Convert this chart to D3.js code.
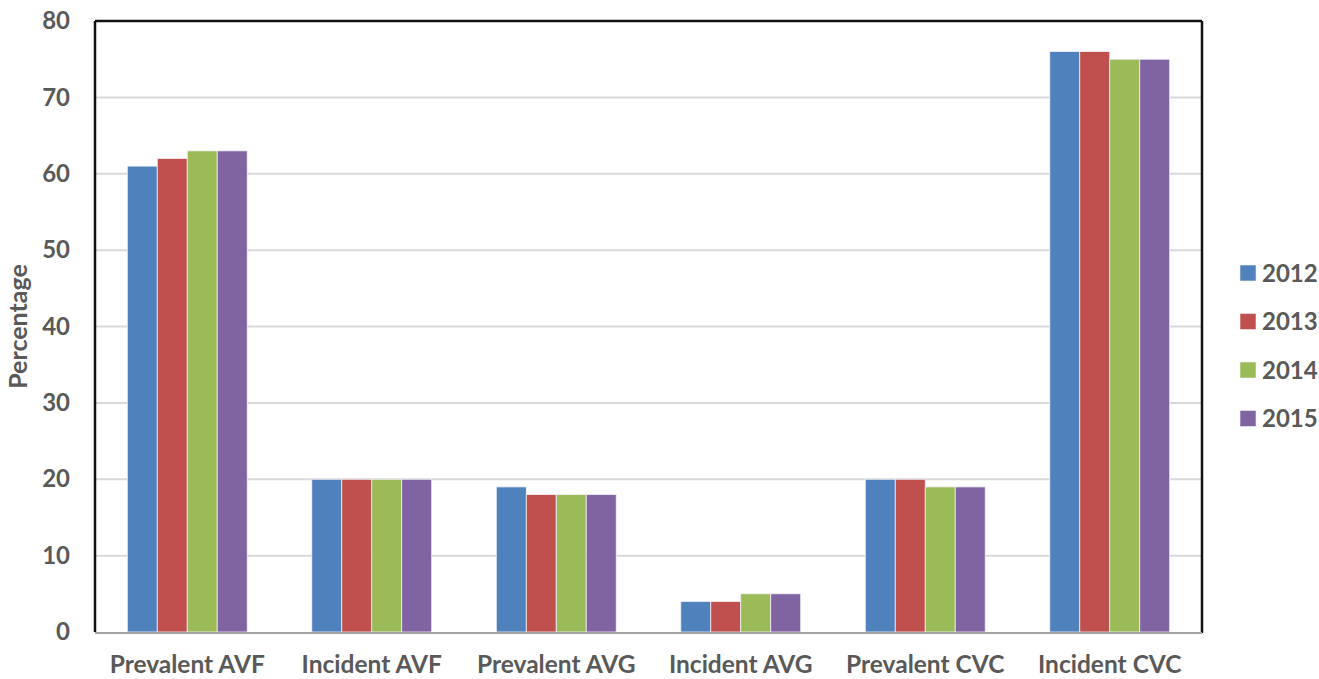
<!DOCTYPE html>
<html>
<head>
<meta charset="utf-8">
<script src="https://cdn.jsdelivr.net/npm/d3@7"></script>
<style>
  html, body { margin: 0; padding: 0; background: #fff; }
  text { font-family: Lato, "Open Sans", sans-serif; font-weight: bold; fill: #595959; }
</style>
</head>
<body>
<svg id="chart" width="1319" height="679"></svg>
<script>
// Vascular access type by year (percent)
const categories = ["Prevalent AVF", "Incident AVF", "Prevalent AVG", "Incident AVG", "Prevalent CVC", "Incident CVC"];
const years = ["2012", "2013", "2014", "2015"];
const values2012 = [61, 20, 19, 4, 20, 76];
const values2013 = [62, 20, 18, 4, 20, 76];
const values2014 = [63, 20, 18, 5, 19, 75];
const values2015 = [63, 20, 18, 5, 19, 75];
const yTicks = [0, 10, 20, 30, 40, 50, 60, 70, 80];
const colors = ["#4F81BD", "#C0504D", "#9BBB59", "#8064A2"];

const series = [values2012, values2013, values2014, values2015];

const svg = d3.select("#chart");
const plotLeft = 95, plotRight = 1202, plotTop = 21, plotBottom = 632;

const x = d3.scaleBand().domain(categories).range([plotLeft, plotRight]).paddingInner(0).paddingOuter(0);
const y = d3.scaleLinear().domain([0, 80]).range([plotBottom, plotTop]);
const groupFrac = 0.65;
const xi = d3.scaleBand().domain(years)
  .range([0, x.bandwidth() * groupFrac]);

// gridlines
svg.append("g").selectAll("line").data(yTicks.filter(t => t > 0 && t < 80)).join("line")
  .attr("x1", plotLeft).attr("x2", plotRight)
  .attr("y1", d => y(d)).attr("y2", d => y(d))
  .attr("stroke", "#d9d9d9").attr("stroke-width", 2);

// bars
const groups = svg.append("g").selectAll("g").data(categories).join("g")
  .attr("transform", c => `translate(${x(c) + x.bandwidth() * (1 - groupFrac) / 2},0)`);
groups.selectAll("rect").data((c, i) => years.map((yr, k) => ({ yr, k, v: series[k][i] }))).join("rect")
  .attr("x", d => xi(d.yr))
  .attr("width", xi.bandwidth())
  .attr("y", d => y(d.v))
  .attr("height", d => y(0) - y(d.v))
  .attr("fill", d => colors[d.k])
  .attr("stroke", "#f4f0f8").attr("stroke-width", 0.8);

// frame: top, left, right black; bottom gray axis
svg.append("line").attr("x1", plotLeft).attr("x2", plotRight).attr("y1", plotTop).attr("y2", plotTop)
  .attr("stroke", "#111").attr("stroke-width", 2.5);
svg.append("line").attr("x1", plotLeft).attr("x2", plotLeft).attr("y1", plotTop).attr("y2", plotBottom)
  .attr("stroke", "#111").attr("stroke-width", 2.5);
svg.append("line").attr("x1", plotRight).attr("x2", plotRight).attr("y1", plotTop).attr("y2", plotBottom + 1)
  .attr("stroke", "#111").attr("stroke-width", 2.5);
svg.append("line").attr("x1", plotLeft).attr("x2", plotRight).attr("y1", plotBottom + 1).attr("y2", plotBottom + 1)
  .attr("stroke", "#a6a6a6").attr("stroke-width", 2);

// y axis labels
const yAxis = d3.axisLeft(y).tickValues(yTicks).tickSize(0).tickPadding(25);
const ya = svg.append("g").attr("transform", `translate(${plotLeft},0)`).call(yAxis);
ya.select(".domain").remove();
ya.selectAll("text").style("font-size", "24px").attr("fill", "#595959")
  .style("font-family", "Lato, 'Open Sans', sans-serif").style("font-weight", "bold");

// x axis labels
const xAxis = d3.axisBottom(x).tickSize(0).tickPadding(24);
const xa = svg.append("g").attr("transform", `translate(0,${plotBottom})`).call(xAxis);
xa.select(".domain").remove();
xa.selectAll("text").style("font-size", "24.5px").attr("fill", "#595959")
  .style("font-family", "Lato, 'Open Sans', sans-serif").style("font-weight", "bold");

// y axis title
svg.append("text")
  .attr("transform", `translate(27,${(plotTop + plotBottom) / 2}) rotate(-90)`)
  .attr("text-anchor", "middle")
  .style("font-size", "25px")
  .text("Percentage");

// legend
const legend = svg.append("g").attr("transform", "translate(1240,273)");
const rows = legend.selectAll("g").data(years).join("g")
  .attr("transform", (d, i) => `translate(0,${i * 48.5})`);
rows.append("rect").attr("x", 0).attr("y", -8).attr("width", 16).attr("height", 16)
  .attr("fill", (d, i) => colors[i]).attr("stroke", "#eee").attr("stroke-width", 0.6);
rows.append("text").attr("x", 22).attr("y", 0).attr("dy", "0.36em")
  .style("font-size", "24px").text(d => d);
</script>
</body>
</html>
